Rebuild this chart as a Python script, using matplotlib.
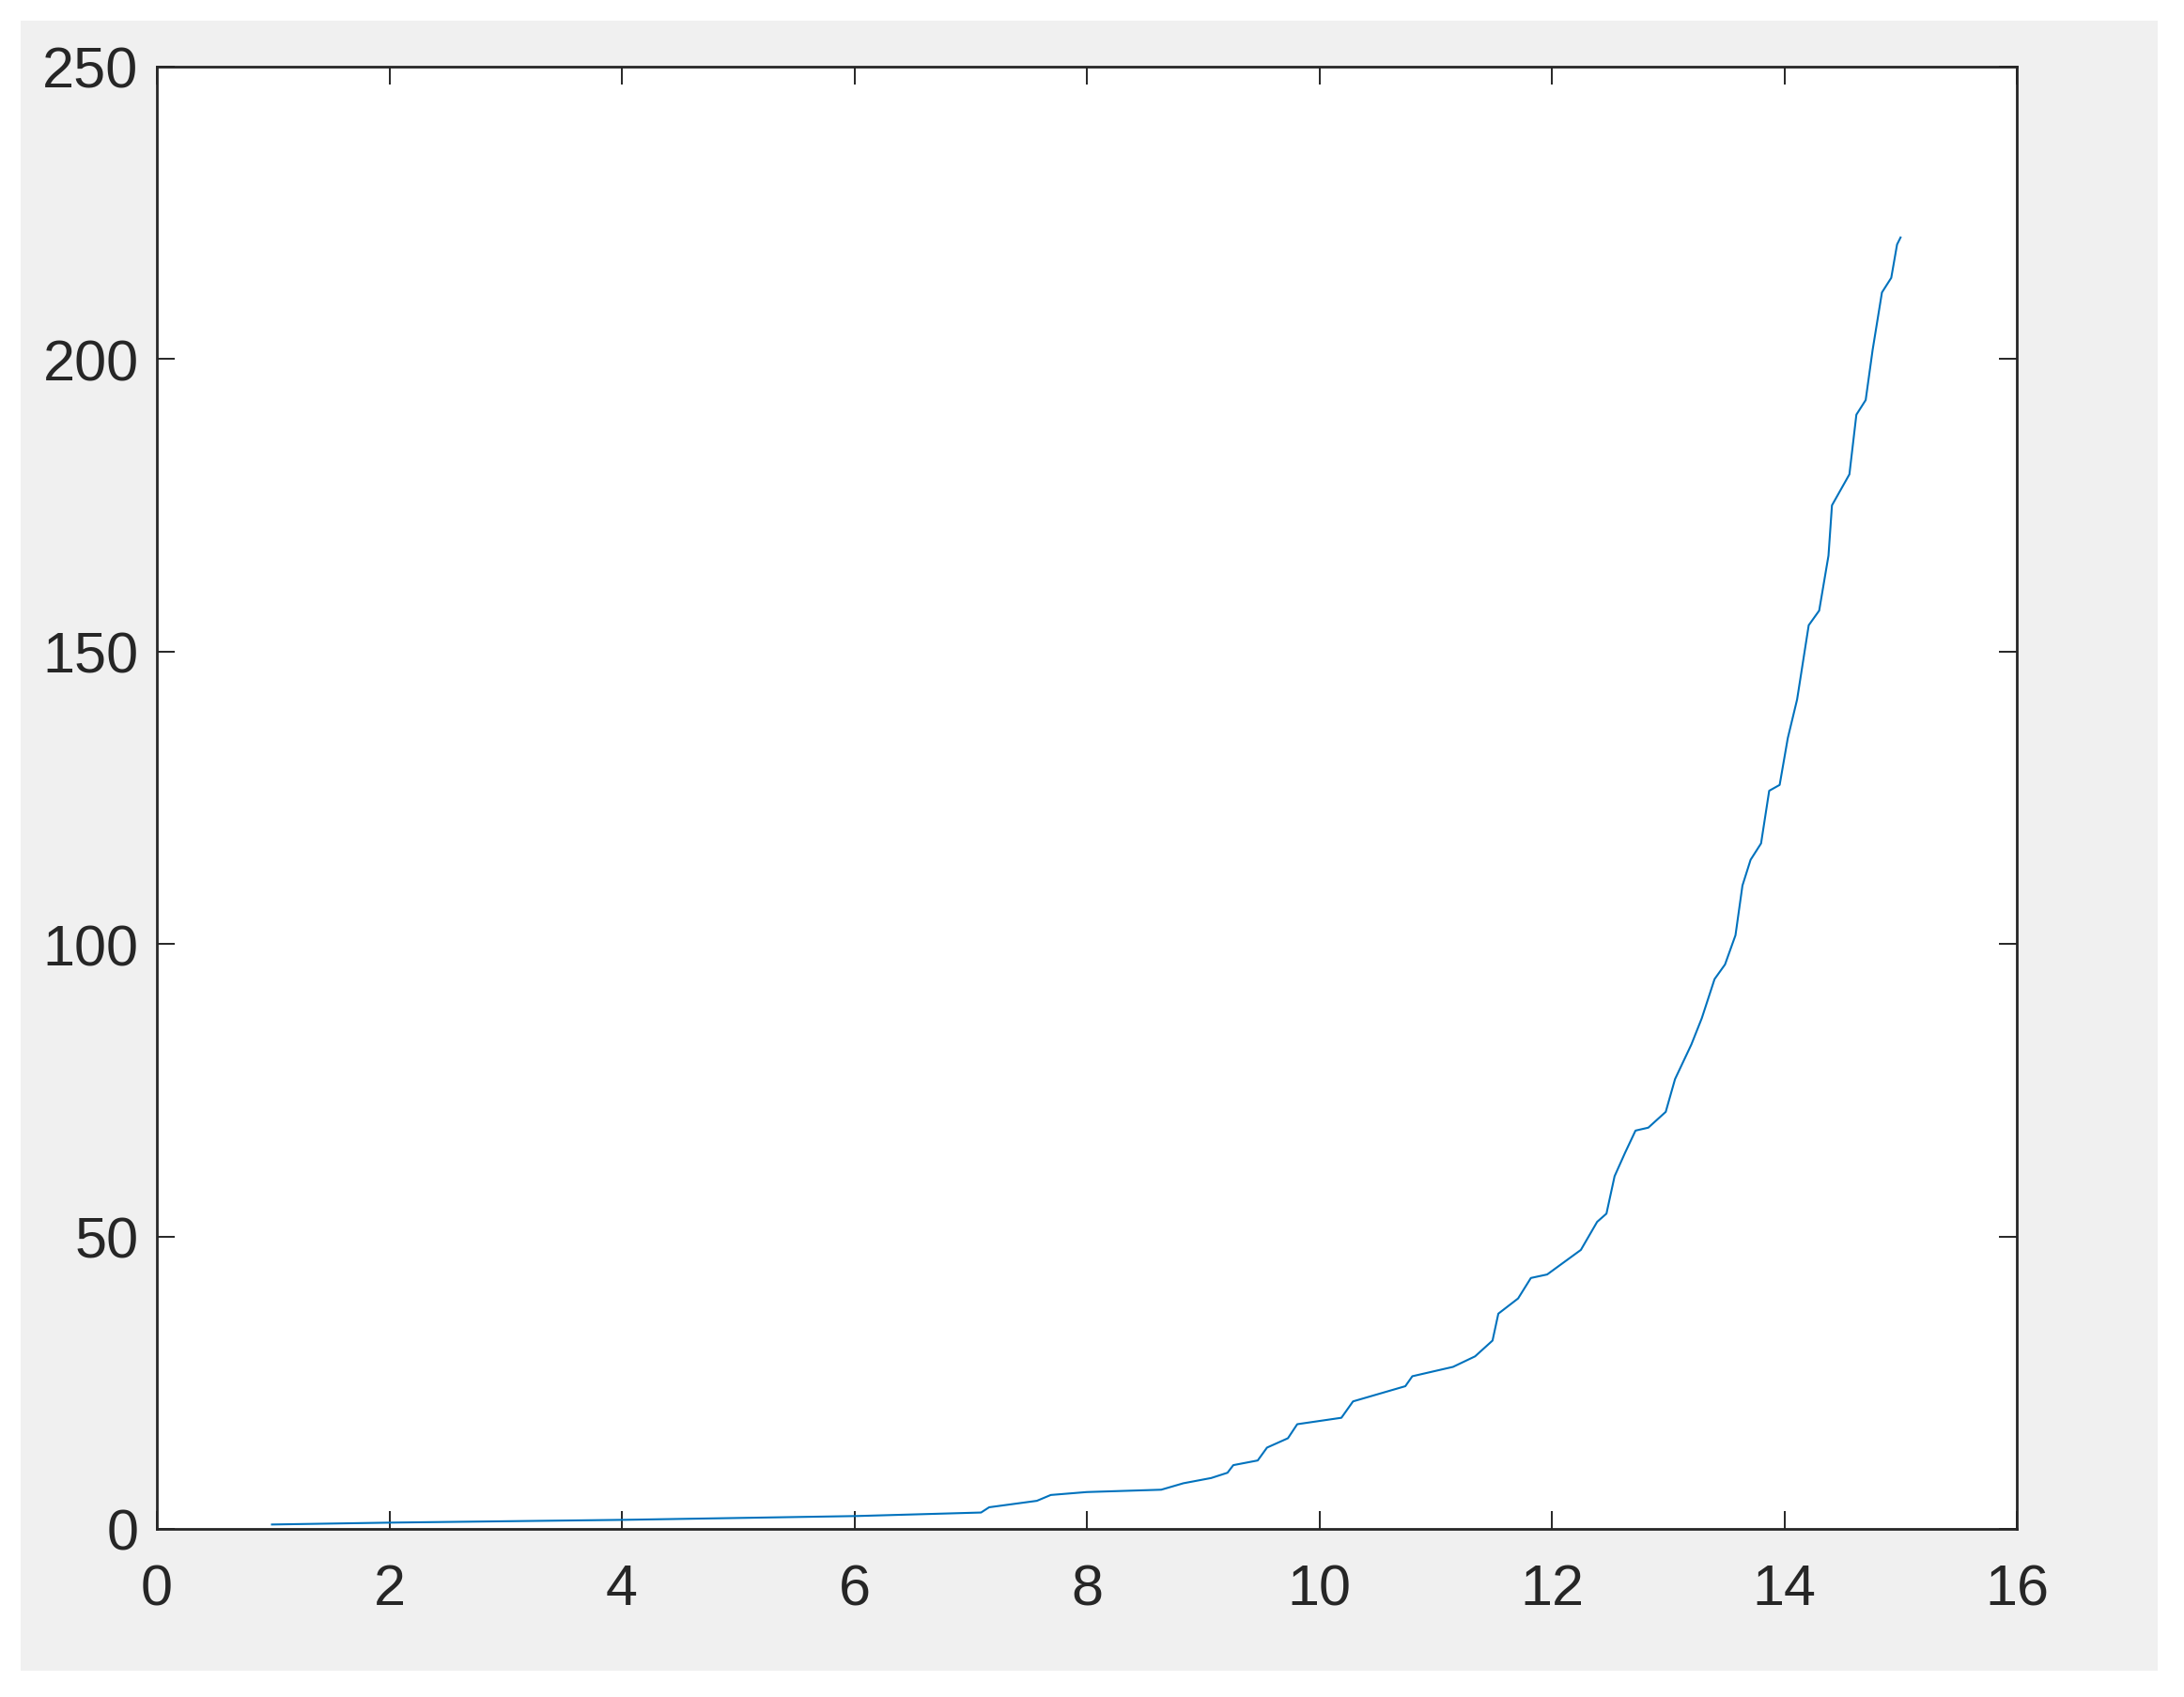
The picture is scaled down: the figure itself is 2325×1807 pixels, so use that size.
import matplotlib
matplotlib.use('Agg')
import matplotlib.pyplot as plt
from matplotlib.patches import Rectangle

# values
x_vals = [0.99, 2.0, 4.02, 6.02, 7.09, 7.16, 7.57, 7.69, 8.0, 8.64, 8.83, 9.07,
          9.21, 9.26, 9.47, 9.55, 9.73, 9.81, 10.19, 10.29, 10.74, 10.80, 11.15,
          11.34, 11.49, 11.54, 11.71, 11.82, 11.96, 12.25, 12.39, 12.47, 12.54,
          12.63, 12.72, 12.83, 12.98, 13.06, 13.20, 13.29, 13.40, 13.49, 13.58,
          13.64, 13.71, 13.80, 13.87, 13.96, 14.03, 14.11, 14.21, 14.30, 14.38,
          14.41, 14.56, 14.62, 14.70, 14.76, 14.84, 14.92, 14.97, 15.0]
y_vals = [0.75, 1.07, 1.55, 2.2, 2.8, 3.7, 4.8, 5.8, 6.3, 6.7, 7.8, 8.7,
          9.6, 10.9, 11.7, 13.9, 15.5, 17.9, 19.0, 21.8, 24.4, 26.1, 27.7,
          29.5, 32.2, 36.8, 39.4, 42.9, 43.5, 47.7, 52.5, 53.9, 60.3,
          64.3, 68.1, 68.6, 71.3, 76.9, 82.8, 87.3, 94.0, 96.5, 101.5,
          110.0, 114.4, 117.2, 126.2, 127.2, 135.2, 141.8, 154.5, 157.0, 166.4,
          175.0, 180.3, 190.5, 193.0, 201.6, 211.4, 213.9, 219.6, 220.8]
x_ticks = [0, 2, 4, 6, 8, 10, 12, 14, 16]
y_ticks = [0, 50, 100, 150, 200, 250]

txt = '#262626'
plt.rcParams['font.family'] = ['Liberation Sans', 'DejaVu Sans']

W, H = 2325, 1808
fig = plt.figure(figsize=(W / 100, H / 100), dpi=100, facecolor='white')
fig.add_artist(Rectangle((22 / W, 1 - 1780 / H), (2297 - 22) / W, (1780 - 23) / H,
                         transform=fig.transFigure, facecolor='#f0f0f0',
                         edgecolor='none', zorder=-10))

ax = fig.add_axes([167 / W, 1 - 1629 / H, (2147 - 167) / W, (1629 - 72) / H])
ax.set_facecolor('white')
ax.plot(x_vals, y_vals, color='#0072bd', lw=1.5)

ax.set_xlim(0, 16)
ax.set_ylim(0, 250)
ax.set_xticks(x_ticks)
ax.set_yticks(y_ticks)
ax.tick_params(direction='in', length=13.5, width=1.4, colors=txt,
               labelsize=44, top=True, right=True)
ax.tick_params(axis='x', pad=26)
ax.tick_params(axis='y', pad=14)
for s in ax.spines.values():
    s.set_linewidth(2.0)
    s.set_color(txt)

plt.savefig('out.png', dpi=100, facecolor='white')
